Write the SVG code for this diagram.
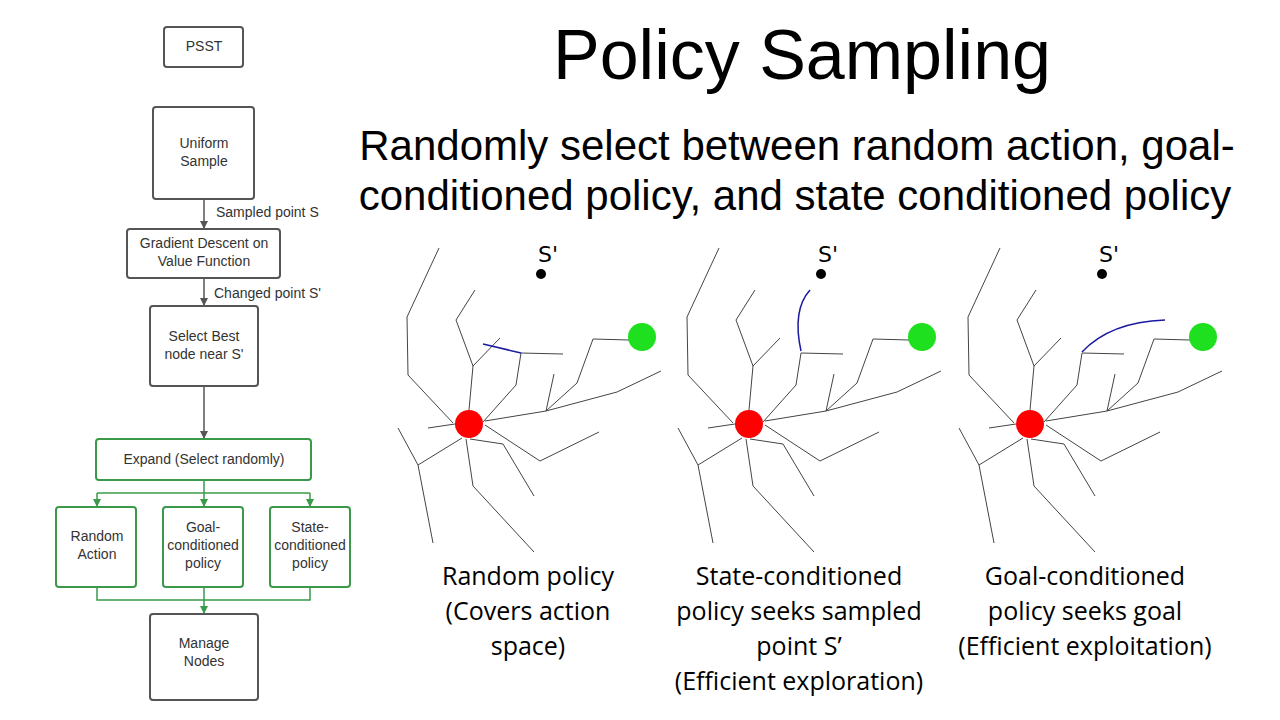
<svg xmlns="http://www.w3.org/2000/svg" xmlns:xlink="http://www.w3.org/1999/xlink" width="1280" height="720" viewBox="0 0 1280 720">
<style>
.box{fill:#fff;stroke:#555;stroke-width:2}
.gbox{fill:#fff;stroke:#3a9a4a;stroke-width:2}
.ft{font-family:"Liberation Sans",Arial,sans-serif;font-size:14px;fill:#333;text-anchor:middle}
.lt{font-family:"Liberation Sans",Arial,sans-serif;font-size:14px;fill:#333}
.ar{stroke:#555;stroke-width:1.5;fill:none}
.ga{stroke:#3a9a4a;stroke-width:1.5;fill:none}
.tr{stroke:#444;stroke-width:1;fill:none}
.bl{stroke:#1a1aa0;stroke-width:1.5;fill:none}
.cap{font-family:"Open Sans","DejaVu Sans",sans-serif;font-size:25px;fill:#000;text-anchor:middle}
</style>
<defs>
<marker id="ma" markerWidth="8" markerHeight="8" refX="7" refY="4" orient="auto" markerUnits="userSpaceOnUse"><path d="M0,0 L8,4 L0,8 z" fill="#555"/></marker>
<marker id="mg" markerWidth="8" markerHeight="8" refX="7" refY="4" orient="auto" markerUnits="userSpaceOnUse"><path d="M0,0 L8,4 L0,8 z" fill="#3a9a4a"/></marker>
<g id="tree">
<polyline class="tr" points="453,423 408,375 407,317 439,248"/>
<polyline class="tr" points="469,410 473,366 456,320 475,290"/>
<polyline class="tr" points="473,366 500,338"/>
<polyline class="tr" points="483,422 516,385 521,353 563,354"/>
<polyline class="tr" points="485,421 546,411 617,392 661,371"/>
<polyline class="tr" points="546,411 554,374"/>
<polyline class="tr" points="546,411 577,383 593,339 629,340"/>
<polyline class="tr" points="485,425 540,461 599,432"/>
<polyline class="tr" points="428,428 455,424"/>
<polyline class="tr" points="462,438 418,465 398,428"/>
<polyline class="tr" points="418,465 433,543"/>
<polyline class="tr" points="466,439 473,486 534,552"/>
<polyline class="tr" points="470,439 503,444 534,496"/>
<circle cx="469" cy="424" r="14" fill="#f00"/>
<circle cx="642" cy="337" r="14" fill="#1ee01e"/>
<circle cx="541" cy="274" r="5" fill="#000"/>
<text x="538" y="262" font-family="'DejaVu Sans',sans-serif" font-size="22">S'</text>
</g>
</defs>
<rect width="1280" height="720" fill="#fff"/>
<g id="connectors">
<line class="ar" x1="204" y1="199" x2="204" y2="228" marker-end="url(#ma)"/>
<line class="ar" x1="204" y1="278" x2="204" y2="305" marker-end="url(#ma)"/>
<line class="ar" x1="204" y1="386" x2="204" y2="438" marker-end="url(#ma)"/>
<line class="ga" x1="204" y1="480" x2="204" y2="493"/>
<line class="ga" x1="97" y1="493" x2="310" y2="493"/>
<line class="ga" x1="97" y1="493" x2="97" y2="506" marker-end="url(#mg)"/>
<line class="ga" x1="204" y1="493" x2="204" y2="506" marker-end="url(#mg)"/>
<line class="ga" x1="310" y1="493" x2="310" y2="506" marker-end="url(#mg)"/>
<polyline class="ga" points="97,587 97,600 310,600 310,587"/>
<line class="ga" x1="204" y1="587" x2="204" y2="613" marker-end="url(#mg)"/>
<text class="lt" x="216" y="217">Sampled point S</text>
<text class="lt" x="214" y="298">Changed point S'</text>
</g>
<g id="psst"><rect class="box" x="164" y="27" width="79" height="40" rx="3"/><text class="ft" x="204" y="51">PSST</text></g>
<g id="uniform"><rect class="box" x="153" y="107" width="101" height="92" rx="3"/><text class="ft" x="204" y="148">Uniform</text><text class="ft" x="204" y="166">Sample</text></g>
<g id="gradient"><rect class="box" x="127" y="229" width="153" height="49" rx="3"/><text class="ft" x="204" y="248">Gradient Descent on</text><text class="ft" x="204" y="266">Value Function</text></g>
<g id="select"><rect class="box" x="150" y="306" width="108" height="80" rx="3"/><text class="ft" x="204" y="341">Select Best</text><text class="ft" x="204" y="359">node near S'</text></g>
<g id="expand"><rect class="gbox" x="96" y="439" width="215" height="41" rx="3"/><text class="ft" x="204" y="464">Expand (Select randomly)</text></g>
<g id="random"><rect class="gbox" x="56" y="507" width="80" height="80" rx="3"/><text class="ft" x="97" y="541">Random</text><text class="ft" x="97" y="559">Action</text></g>
<g id="goal"><rect class="gbox" x="163" y="507" width="80" height="80" rx="3"/><text class="ft" x="203" y="532">Goal-</text><text class="ft" x="203" y="550">conditioned</text><text class="ft" x="203" y="568">policy</text></g>
<g id="state"><rect class="gbox" x="270" y="507" width="80" height="80" rx="3"/><text class="ft" x="310" y="532">State-</text><text class="ft" x="310" y="550">conditioned</text><text class="ft" x="310" y="568">policy</text></g>
<g id="manage"><rect class="box" x="150" y="614" width="108" height="86" rx="3"/><text class="ft" x="204" y="648">Manage</text><text class="ft" x="204" y="666">Nodes</text></g>
<text x="802" y="79" font-family="'Liberation Sans',Arial,sans-serif" font-size="70" text-anchor="middle">Policy Sampling</text>
<text x="797" y="160" font-family="'Liberation Sans',Arial,sans-serif" font-size="42" text-anchor="middle">Randomly select between random action, goal-</text>
<text x="795" y="210" font-family="'Liberation Sans',Arial,sans-serif" font-size="42" text-anchor="middle">conditioned policy, and state conditioned policy</text>
<g id="panel1"><use xlink:href="#tree"/><line class="bl" x1="483" y1="344" x2="521" y2="353"/></g>
<g id="panel2"><use xlink:href="#tree" x="280"/><path class="bl" d="M801,351 Q792,310 810,290"/></g>
<g id="panel3"><use xlink:href="#tree" x="561"/><path class="bl" d="M1082,352 Q1110,322 1165,320"/></g>
<text class="cap" x="528" y="585">Random policy</text>
<text class="cap" x="528" y="620">(Covers action</text>
<text class="cap" x="528" y="655">space)</text>
<text class="cap" x="799" y="585">State-conditioned</text>
<text class="cap" x="799" y="620">policy seeks sampled</text>
<text class="cap" x="799" y="655">point S’</text>
<text class="cap" x="799" y="690">(Efficient exploration)</text>
<text class="cap" x="1085" y="585">Goal-conditioned</text>
<text class="cap" x="1085" y="620">policy seeks goal</text>
<text class="cap" x="1085" y="655">(Efficient exploitation)</text>
</svg>
